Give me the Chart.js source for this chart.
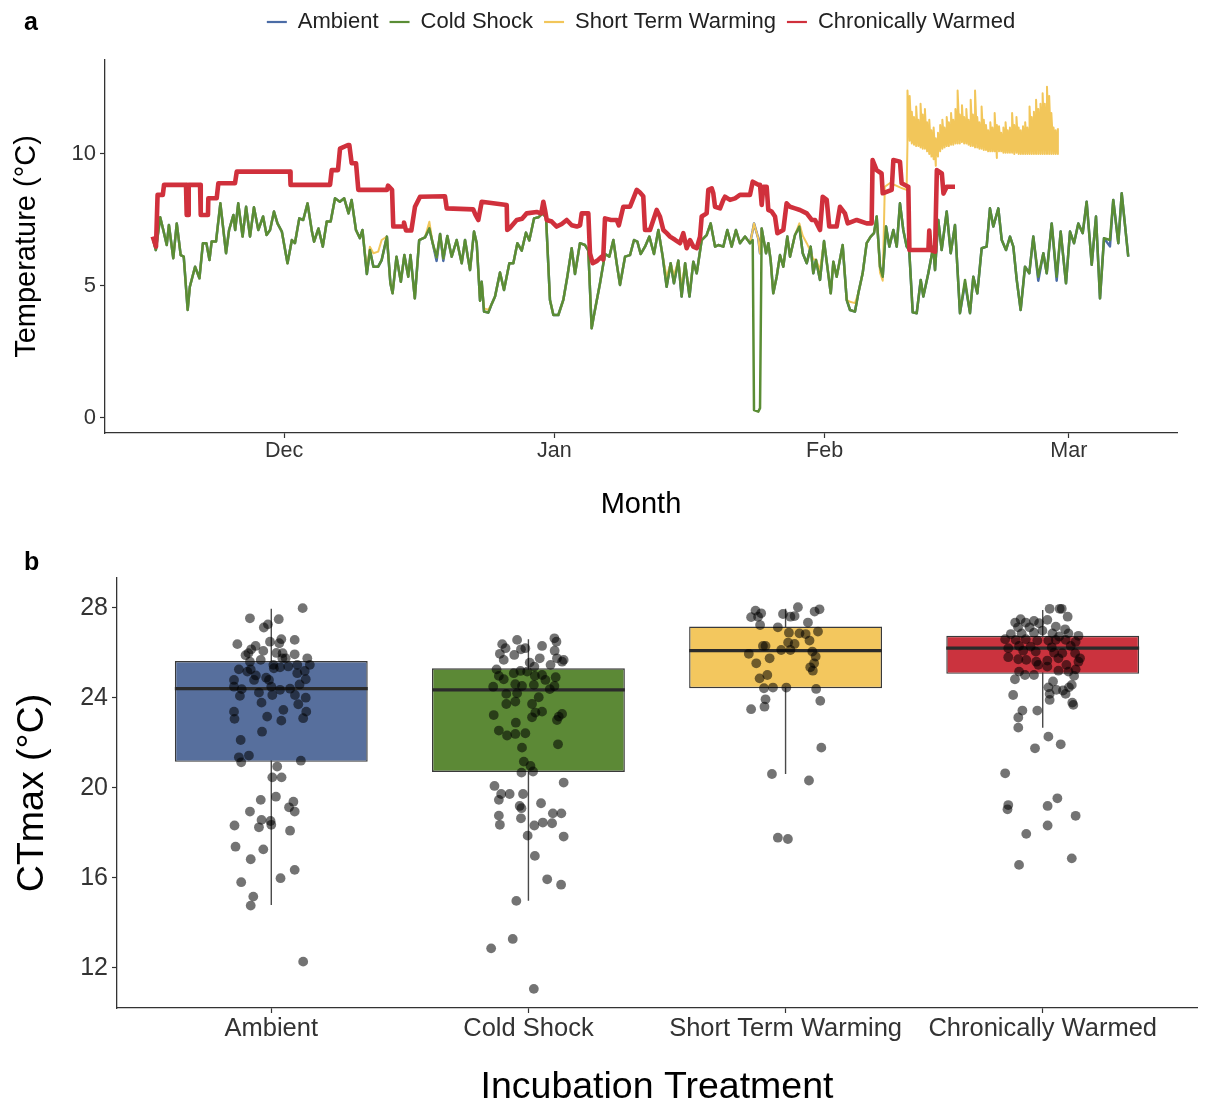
<!DOCTYPE html>
<html><head><meta charset="utf-8">
<script src="https://cdn.jsdelivr.net/npm/chart.js@4.4.1/dist/chart.umd.min.js"></script>
<style>
html,body{margin:0;padding:0;background:#fff;}
body{width:1205px;height:1104px;position:relative;overflow:hidden;font-family:"Liberation Sans",Arial,Helvetica,sans-serif;}
#c1{position:absolute;left:0;top:0;}
#c2{position:absolute;left:0;top:540px;}
.panel{position:absolute;font-weight:bold;font-size:25px;line-height:29px;color:#000;}
</style></head><body>
<canvas id="c1" width="1205" height="530"></canvas>
<canvas id="c2" width="1205" height="564"></canvas>
<div class="panel" style="left:24px;top:7px">a</div>
<div class="panel" style="left:24px;top:547px">b</div>
<script>
// ---------- Panel a : temperature traces (x = days since 1 Nov) ----------
const monthTickDays = [30, 61, 92, 120];
const monthLabels = ['Dec', 'Jan', 'Feb', 'Mar'];
const tempTicks = [0, 5, 10];
const seriesNames = ['Ambient', 'Cold Shock', 'Short Term Warming', 'Chronically Warmed'];

const seasonDays = [
15.0,15.3,15.8,16.2,16.55,16.8,17.3,17.7,18.15,18.5,
18.95,19.2,19.8,20.3,20.7,21.1,21.45,21.7,22.2,22.7,
23.35,23.7,24.2,24.4,24.75,25.25,25.65,26.1,26.55,27.05,
27.6,28.0,28.4,28.85,29.25,29.75,30.4,30.9,31.25,31.75,
32.2,32.7,33.2,33.45,33.95,34.45,34.9,35.35,35.85,36.4,
36.9,37.4,37.75,38.25,38.7,39.0,39.5,39.85,40.25,40.8,
41.2,41.8,42.2,42.45,42.9,43.4,43.8,44.25,44.5,45.0,
45.5,46.17,46.67,47.05,47.5,47.9,48.27,48.73,49.23,49.8,
50.38,50.76,51.33,51.79,52.1,52.48,52.67,52.94,53.43,53.82,
54.2,54.77,55.23,55.84,56.3,56.76,57.26,57.75,58.13,58.67,
59.17,59.66,60.05,60.5,60.89,61.46,62.03,62.49,62.99,63.37,
63.94,64.52,64.9,65.28,65.55,66.24,66.81,67.31,67.77,68.15,
68.53,69.11,69.68,70.14,70.52,70.9,71.4,71.9,72.43,72.93,
73.43,73.88,74.34,74.72,75.22,75.6,76.0,76.5,76.94,77.33,
77.9,78.47,78.93,79.43,79.81,80.38,80.84,81.34,81.83,82.29,
82.87,83.44,83.75,83.9,84.39,84.59,84.78,85.28,85.54,85.81,
86.11,86.5,86.88,87.26,87.72,88.03,88.6,89.1,89.49,89.95,
90.4,90.7,91.01,91.47,91.93,92.31,92.7,93.0,93.38,94.07,
94.53,94.91,95.48,95.86,96.36,96.82,97.28,97.66,97.97,98.35,
98.66,99.04,99.42,99.88,100.27,100.64,101.02,101.41,101.7,102.1,
102.56,103.02,103.32,103.89,104.46,104.66,105.03,105.42,106.0,106.46,
106.95,107.52,108.1,108.67,109.05,109.51,110.01,110.58,110.96,111.34,
111.92,112.31,112.8,113.26,113.64,114.03,114.48,114.98,115.47,115.93,
116.5,117.08,117.47,118.04,118.61,119.07,119.68,120.14,120.6,121.09,
121.6,122.05,122.63,123.12,123.58,124.04,124.72,125.1,125.68,126.07,
126.82];

const coldShockTemps = [
6.74,6.36,7.60,7.06,6.55,7.31,6.05,7.37,6.17,6.11,
4.09,4.97,5.73,5.29,6.62,6.62,5.98,6.68,6.68,8.13,
6.24,7.12,7.69,7.12,8.13,6.87,8.0,6.87,7.98,7.12,
7.63,6.93,7.12,7.82,7.37,7.06,5.86,6.74,6.62,7.56,
7.5,8.13,7.06,6.68,7.18,6.49,7.44,7.44,8.32,8.19,
8.32,7.75,8.26,7.12,6.81,7.12,5.45,6.36,5.73,5.73,
5.98,6.87,5.1,4.72,6.11,5.16,6.17,5.35,6.17,4.53,
6.74,6.84,7.18,6.62,6.09,6.97,6.05,6.89,6.11,6.74,
5.86,6.74,5.6,7.06,6.62,4.44,5.16,4.03,3.99,4.32,
4.6,5.51,4.85,5.86,5.86,6.62,6.34,7.02,6.72,7.56,
7.6,7.75,7.6,4.47,3.9,3.9,4.47,5.35,6.43,5.45,
6.62,6.55,6.34,3.4,3.9,5.1,6.21,6.11,6.74,5.86,
5.04,6.11,6.17,6.74,6.68,6.21,6.49,6.87,6.21,7.12,
6.11,4.97,5.86,5.1,5.96,4.6,5.86,4.6,5.92,5.48,
6.74,6.93,7.37,6.49,6.55,6.49,7.12,6.49,7.12,6.62,
6.87,6.62,6.74,0.3,0.24,0.37,7.18,6.24,6.62,5.98,
4.72,5.35,6.17,5.73,6.87,6.11,6.93,7.25,6.24,5.86,
6.49,5.48,5.98,5.23,6.7,5.73,4.72,5.92,5.35,6.55,
4.47,4.09,4.03,4.72,5.48,6.62,6.87,7.0,7.63,5.73,
5.35,7.25,6.49,7.12,6.49,8.13,7.12,6.49,6.36,4.0,
3.97,5.23,4.6,5.48,6.49,5.6,7.5,6.36,7.82,6.24,
7.31,3.97,5.23,3.97,5.35,4.72,6.43,6.49,7.94,7.25,
7.94,6.74,6.36,6.87,6.49,5.23,4.09,5.73,5.48,6.87,
5.35,6.24,5.48,7.37,5.35,7.06,5.1,7.06,6.62,7.37,
7.0,8.19,5.8,7.63,4.53,6.81,6.74,8.26,6.62,8.51,
6.11];

const ambientTemps = [
6.74,6.36,7.60,7.06,6.55,7.31,6.05,7.37,6.17,6.11,
4.09,4.97,5.73,5.29,6.62,6.62,5.98,6.68,6.68,8.13,
6.24,7.12,7.69,7.12,8.13,6.87,8.0,6.87,7.98,7.12,
7.63,6.93,7.12,7.82,7.37,7.06,5.86,6.74,6.62,7.56,
7.5,8.13,7.06,6.68,7.18,6.49,7.44,7.44,8.32,8.19,
8.32,7.75,8.26,7.12,6.81,7.12,5.45,6.36,5.73,5.73,
5.98,6.87,5.1,4.72,6.11,5.16,6.17,5.35,6.17,4.53,
6.74,6.84,7.18,6.62,5.95,6.97,5.95,6.89,6.11,6.74,
5.86,6.74,5.6,7.06,6.62,4.44,5.16,4.03,3.99,4.32,
4.6,5.51,4.85,5.86,5.86,6.62,6.34,7.02,6.72,7.56,
7.6,7.75,7.6,4.47,3.9,3.9,4.47,5.35,6.43,5.45,
6.62,6.55,6.34,3.4,3.9,5.1,6.21,6.11,6.74,5.86,
5.04,6.11,6.17,6.74,6.68,6.21,6.49,6.87,6.21,7.12,
6.11,4.97,5.86,5.1,5.96,4.6,5.86,4.6,5.92,5.48,
6.74,6.93,7.37,6.49,6.55,6.49,7.12,6.49,7.12,6.62,
6.87,6.62,7.1,7.37,6.8,6.24,7.18,6.24,6.62,5.98,
4.72,5.35,6.17,5.73,6.87,6.11,6.93,7.25,6.24,5.86,
6.49,5.48,5.98,5.23,6.7,5.73,4.72,5.92,5.35,6.55,
4.47,4.09,4.03,4.72,5.48,6.62,6.87,7.0,7.63,5.73,
5.35,7.25,6.49,7.12,6.49,8.13,7.12,6.49,6.36,4.0,
3.97,5.23,4.6,5.48,6.49,5.6,7.5,6.36,7.82,6.24,
7.31,3.97,5.1,3.97,5.35,4.72,6.43,6.49,7.94,7.25,
7.94,6.74,6.36,6.87,6.49,5.23,4.09,5.73,5.48,6.87,
5.2,6.24,5.48,7.37,5.2,7.06,5.1,7.06,6.62,7.37,
7.0,8.19,5.8,7.63,4.53,6.81,6.5,8.26,6.62,8.51,
6.11];

// Short Term Warming before the heating (same logger days as seasonDays[0..190])
const stwEarlyTemps = [
6.74,6.36,7.60,7.06,6.55,7.31,6.05,7.37,6.17,6.11,
4.09,4.97,5.73,5.29,6.62,6.62,5.98,6.68,6.68,8.13,
6.24,7.12,7.69,7.12,8.13,6.87,8.0,6.87,7.98,7.12,
7.63,6.93,7.12,7.82,7.37,7.06,5.86,6.74,6.62,7.56,
7.5,8.13,7.06,6.68,7.18,6.49,7.44,7.44,8.32,8.19,
8.32,7.75,8.26,7.12,6.81,7.12,5.6,6.49,6.24,6.3,
6.74,6.87,5.1,4.72,6.11,5.16,6.17,5.35,6.17,4.53,
6.74,6.84,7.43,6.62,6.09,6.97,6.05,6.89,6.11,6.74,
5.86,6.74,5.6,7.06,6.62,4.44,5.16,4.15,4.1,4.32,
4.6,5.51,4.85,5.86,5.86,6.62,6.34,7.02,6.72,7.56,
7.6,7.75,7.6,4.47,3.9,3.9,4.47,5.35,6.43,5.45,
6.62,6.55,6.34,3.4,3.9,5.1,6.21,6.11,6.74,5.86,
5.04,6.11,6.17,6.74,6.68,6.21,6.49,6.87,6.21,7.12,
6.11,5.35,5.86,5.4,5.96,4.97,5.86,4.7,5.92,5.48,
6.74,6.93,7.37,6.49,6.55,6.49,7.12,6.49,7.12,6.62,
6.87,6.62,7.1,7.37,6.8,6.24,7.18,6.24,6.62,5.98,
4.72,5.35,6.17,5.73,6.87,6.11,6.93,7.37,6.9,6.62,
6.3,6.0,6.0,5.6,6.7,5.73,4.72,5.92,5.35,6.55,
4.47,4.4,4.35,4.72,5.48,6.62,6.87,7.0,7.63,5.5,
5.2];
const stwLateDays = [98.9, 99.5, 100.2, 100.9, 101.4];
const stwLateTemps = [8.76, 8.9, 8.8, 8.7, 8.64];
const stwHeatDays = [
101.5,101.75,102,102.25,102.5,102.75,103,103.25,103.5,103.75,
104,104.25,104.5,104.75,105,105.25,105.5,105.75,106,106.25,
106.5,106.75,107,107.25,107.5,107.75,108,108.25,108.5,108.75,
109,109.25,109.5,109.75,110,110.25,110.5,110.75,111,111.25,
111.5,111.75,112,112.25,112.5,112.75,113,113.25,113.5,113.75,
114,114.25,114.5,114.75,115,115.25,115.5,115.75,116,116.25,
116.5,116.75,117,117.25,117.5,117.75,118,118.25,118.5,118.75];
const stwHeatLow = [
10.4,10.5,10.4,10.35,10.3,10.3,10.25,10.2,10.2,10.1,
10.0,9.9,9.8,9.55,9.9,10.1,10.2,10.25,10.3,10.3,
10.35,10.35,10.4,10.4,10.4,10.45,10.4,10.4,10.35,10.3,
10.3,10.25,10.25,10.2,10.2,10.15,10.15,10.1,10.1,10.1,
10.1,9.85,10.1,10.1,10.05,10.05,10.05,10.05,10.05,10.0,
10.05,10.0,10.0,10.0,10.0,10.0,10.0,10.0,10.0,10.0,
10.0,10.0,10.0,10.0,10.0,10.0,10.0,10.0,10.0,10.0];
const stwHeatHigh = [
12.4,12.2,11.6,11.4,11.8,11.3,11.9,11.5,11.7,11.2,
11.3,10.9,11.0,10.6,10.8,11.1,11.3,11.0,11.4,11.2,
11.55,11.3,11.7,12.4,11.5,11.85,11.4,11.7,11.3,12.05,
11.5,12.4,11.4,11.2,11.8,11.3,11.1,10.9,11.2,11.0,
11.55,11.1,11.05,10.8,11.0,11.2,10.9,11.0,11.55,11.1,
11.4,11.0,10.9,11.05,11.2,11.0,11.8,11.4,11.6,12.05,
11.7,11.9,12.3,11.9,12.55,12.2,11.55,11.0,10.9,10.97];

const warmedDays = [
14.94,15.32,15.5,16.1,16.24,18.76,18.84,18.99,19.07,20.37,
20.45,21.28,21.32,22.28,22.47,24.38,24.58,30.69,30.75,35.28,
35.47,36.19,36.42,37.34,37.49,37.76,38.26,38.52,41.81,41.93,
42.39,42.53,43.65,43.76,43.99,44.6,45.02,45.6,48.46,48.66,
51.7,51.95,52.28,52.67,55.54,55.6,55.9,56.69,57.3,57.83,
58.98,59.5,59.74,59.93,60.13,60.7,61.27,61.85,62.42,63.0,
63.57,63.95,64.14,64.9,65.09,65.4,65.9,66.43,66.6,66.81,
67.5,68.15,68.4,68.91,69.68,70.45,70.8,71.2,71.4,71.97,
72.74,73.12,73.5,73.89,74.27,74.84,75.41,75.79,76.18,76.56,
76.94,77.33,77.71,77.9,78.47,78.66,79.05,79.23,79.43,80.0,
80.38,80.57,81.15,81.72,82.29,83.44,83.75,84.39,84.59,84.78,
84.97,85.35,85.54,85.92,86.31,86.58,87.26,87.64,88.03,88.6,
89.17,89.95,90.52,90.9,91.47,91.78,92.24,92.53,93.38,93.76,
94.33,94.65,95.68,96.82,97.39,97.5,97.96,98.53,98.66,99.69,
99.88,100.64,100.83,101.6,101.72,103.9,104.0,104.15,104.66,104.87,
105.44,105.63,106.0,106.95];
const warmedTemps = [
6.87,6.49,8.45,8.45,8.83,8.83,7.69,7.69,8.83,8.83,
7.69,7.69,8.32,8.32,8.89,8.89,9.33,9.33,8.83,8.83,
9.39,9.39,10.2,10.34,10.34,9.65,9.65,8.64,8.64,8.8,
8.64,7.25,7.25,7.4,7.1,7.1,8.0,8.38,8.4,7.94,
7.9,7.7,7.5,8.19,8.07,7.12,7.2,7.5,7.55,7.75,
7.8,7.75,8.19,7.88,7.5,7.44,7.25,7.35,7.5,7.3,
7.25,7.3,7.75,7.75,6.24,5.86,5.95,6.11,6.0,7.56,
7.5,7.5,7.3,8.0,8.0,8.64,8.55,8.4,7.12,7.12,
7.88,7.62,7.12,7.0,6.87,6.75,6.62,7.0,6.43,6.74,
6.49,6.43,6.87,7.63,7.75,8.64,8.7,8.51,8.0,7.94,
8.26,8.38,8.26,8.32,8.45,8.45,8.95,8.83,8.83,8.07,
8.76,8.76,7.88,7.82,7.63,7.0,7.12,8.13,8.0,7.94,
7.88,7.75,7.5,7.5,7.12,8.38,8.26,7.25,7.25,8.0,
7.75,7.37,7.5,7.37,7.37,9.77,9.39,9.26,8.51,8.64,
9.77,9.71,8.89,8.76,6.36,6.36,7.1,6.36,6.3,9.39,
9.26,8.5,8.76,8.76];

// ---------- Panel b : CTmax box plots ----------
const treatments = ['Ambient', 'Cold Shock', 'Short Term Warming', 'Chronically Warmed'];
const q1 = [21.16, 20.71, 24.43, 25.07];
const medians = [24.41, 24.36, 26.10, 26.21];
const q3 = [25.64, 25.32, 27.17, 26.76];
const whiskerLow = [14.80, 14.99, 20.62, 22.68];
const whiskerHigh = [27.96, 26.61, 27.96, 27.91];
const ctmaxTicks = [12, 16, 20, 24, 28];

const ambientJitter = [0.122,-0.083,0.029,-0.013,-0.029,-0.132,-0.061,-0.078,-0.005,0.039,
0.031,0.091,-0.031,-0.089,0.044,0.091,-0.041,0.043,0.14,-0.083,
0.008,0.056,0.101,0.15,-0.126,-0.08,0.01,0.034,0.101,-0.093,
0.13,-0.145,-0.067,-0.009,0.134,-0.145,-0.115,0.0,0.034,0.073,
-0.048,-0.122,0.004,0.092,0.134,-0.038,0.105,-0.145,0.047,0.136,
-0.143,-0.016,0.039,0.124,-0.036,-0.119,-0.087,-0.126,-0.117,0.115,
0.023,0.004,0.04,0.018,-0.041,0.086,0.069,0.091,-0.083,-0.038,
-0.003,0.0,-0.048,-0.143,0.073,-0.139,-0.031,-0.08,0.091,0.036,
-0.117,-0.07,-0.08,0.124,-0.1,0.02,0.066,-0.02,0.11,-0.06];
const ambientCTmax = [27.99,27.54,27.5,27.27,27.13,26.39,26.31,26.16,26.5,26.61,
26.43,26.58,26.09,25.99,25.99,25.94,25.69,25.76,25.76,25.61,
25.47,25.76,25.47,25.47,25.27,25.27,25.32,25.36,25.1,25.17,
25.2,24.8,24.8,24.8,24.83,24.5,24.39,24.5,24.36,24.41,
24.24,24.09,24.13,24.13,24.01,23.79,23.72,23.39,23.47,23.39,
23.07,23.17,22.99,23.1,22.5,22.13,21.44,21.36,21.14,21.21,
20.95,20.47,20.47,19.61,19.47,19.39,19.14,18.95,18.95,18.58,
18.53,18.36,18.25,18.33,18.1,17.39,17.27,16.83,16.36,15.99,
15.81,15.17,14.77,12.28,25.9,26.0,25.4,24.9,24.6,25.0];

const coldJitter = [0.101,-0.044,0.109,-0.102,0.053,-0.089,-0.029,-0.012,-0.111,-0.055,
0.102,0.044,-0.096,0.111,0.137,0.005,0.086,0.131,0.023,-0.124,
-0.031,-0.005,-0.057,-0.115,0.053,0.025,0.106,0.066,-0.096,-0.051,
-0.025,-0.137,0.021,0.101,0.083,-0.044,-0.086,0.04,-0.051,-0.086,
0.014,0.053,0.027,-0.135,0.131,0.118,0.014,0.111,-0.049,-0.115,
-0.083,-0.051,-0.012,0.115,-0.025,-0.018,0.008,-0.027,0.018,-0.132,
0.137,-0.106,-0.073,-0.021,-0.115,0.049,-0.034,-0.027,-0.115,-0.029,
0.095,0.128,-0.111,0.023,0.056,0.092,-0.003,0.137,0.025,0.073,
0.127,-0.047,-0.061,-0.145,0.021];
const coldCTmax = [26.65,26.58,26.5,26.39,26.31,26.21,26.16,26.21,25.96,25.91,
26.1,25.76,25.69,25.76,25.69,25.57,25.47,25.61,25.39,25.27,
25.2,25.17,25.1,24.98,25.02,24.98,24.92,24.8,24.83,24.61,
24.53,24.5,24.58,24.53,24.39,24.21,24.18,24.03,23.84,23.73,
23.73,23.39,23.35,23.24,23.29,23.17,23.14,23.02,22.9,22.55,
22.33,22.4,22.43,21.94,21.79,21.17,20.98,20.68,20.73,20.09,
20.24,19.73,19.73,19.73,19.47,19.32,19.2,19.1,18.77,18.65,
18.87,18.87,18.36,18.33,18.46,18.43,17.88,17.84,16.98,15.94,
15.7,14.98,13.29,12.87,11.07];

const stwJitter = [0.048,0.132,0.113,-0.117,-0.095,-0.134,-0.107,-0.01,0.019,0.035,
0.087,-0.099,-0.03,0.013,0.054,0.078,0.126,0.093,0.01,0.035,
-0.088,-0.078,-0.017,0.019,0.104,-0.143,0.117,-0.062,-0.114,0.111,
0.096,0.106,-0.071,-0.101,-0.084,-0.049,0.003,0.119,-0.078,0.135,
-0.082,-0.134,0.139,-0.053,0.091,-0.03,0.009];
const stwCTmax = [28.03,27.94,27.84,27.88,27.76,27.59,27.61,27.73,27.61,27.64,
27.35,27.24,27.14,26.9,26.87,26.84,26.95,26.55,26.46,26.4,
26.31,26.31,26.13,26.13,26.06,25.96,25.84,25.76,25.54,25.54,
25.36,25.21,25.02,24.87,24.43,24.46,24.46,24.4,23.94,23.87,
23.61,23.5,21.79,20.62,20.33,17.79,17.73];

const warmJitter = [0.027,0.066,0.074,0.097,-0.086,-0.107,-0.066,-0.034,-0.014,0.018,
-0.096,-0.051,0.051,0.087,-0.124,-0.082,-0.034,-0.001,0.038,0.064,
0.1,0.139,-0.146,-0.105,-0.066,-0.021,0.022,0.051,0.089,0.128,
-0.092,-0.047,0.035,0.109,-0.134,-0.076,-0.027,0.044,0.076,0.126,
-0.134,-0.095,-0.064,-0.025,0.018,0.061,0.145,0.139,-0.017,0.018,
0.092,-0.092,-0.069,-0.034,0.061,0.1,0.128,0.122,-0.108,0.04,
0.113,0.022,0.053,0.079,0.102,0.027,0.089,-0.115,0.027,0.115,
0.119,-0.079,-0.021,-0.095,-0.095,0.022,0.07,-0.03,-0.146,0.057,
-0.134,-0.137,0.019,0.128,0.019,-0.064,0.113,-0.092];
const warmCTmax = [27.96,27.96,27.96,27.61,27.5,27.35,27.35,27.42,27.32,27.47,
27.14,27.14,27.17,27.05,26.84,26.87,26.9,26.99,26.87,26.73,
26.87,26.76,26.61,26.58,26.61,26.55,26.55,26.58,26.58,26.5,
26.31,26.28,26.25,26.31,26.21,26.1,26.06,26.01,25.99,25.99,
25.81,25.72,25.69,25.61,25.66,25.76,25.76,25.61,25.47,25.39,
25.47,25.17,25.02,25.02,25.21,25.17,25.27,24.98,24.83,24.73,
24.58,24.47,24.36,24.33,24.47,24.18,24.18,24.13,23.91,23.79,
23.69,23.44,23.44,23.13,22.68,22.28,21.94,21.76,20.65,19.54,
19.24,19.05,19.2,18.76,18.33,17.96,16.87,16.58];

// ---------- styles ----------
const lineColors = ['#4b6ca6', '#5a8d35', '#f2c65a', '#d0303c'];
const boxColors = ['#576f9d', '#5c8936', '#f3c75e', '#cb333e'];
const FONT = '"Liberation Sans", Arial, Helvetica, sans-serif';
Chart.defaults.font.family = FONT;
Chart.defaults.color = '#333';

const fixedLegend = {
  id: 'fixedLegend',
  afterInit(chart, args, opts) {
    const lg = chart.legend;
    if (lg && opts && opts.height) {
      const orig = lg.fit.bind(lg);
      lg.fit = function () { orig(); this.height = opts.height; };
    }
  }
};

// ---------- build panel a ----------
const pairs = (xs, ys) => xs.map((x, i) => ({ x: x, y: ys[i] }));
const stwData = pairs(seasonDays.slice(0, stwEarlyTemps.length), stwEarlyTemps)
  .concat(pairs(stwLateDays, stwLateTemps));
stwHeatDays.forEach((d, i) => {
  stwData.push({ x: d, y: stwHeatLow[i] });
  stwData.push({ x: d, y: stwHeatHigh[i] });
});

const axisCommon = {
  grid: { drawOnChartArea: false, drawTicks: true, tickLength: 5, color: '#333', tickWidth: 1.2, offset: false },
  border: { display: true, color: '#333', width: 1.3 }
};

new Chart(document.getElementById('c1'), {
  type: 'line',
  data: {
    datasets: [
      { label: seriesNames[0], data: pairs(seasonDays, ambientTemps), borderColor: lineColors[0], backgroundColor: lineColors[0], borderWidth: 2.5, pointRadius: 0, order: 3 },
      { label: seriesNames[1], data: pairs(seasonDays, coldShockTemps), borderColor: lineColors[1], backgroundColor: lineColors[1], borderWidth: 2.5, pointRadius: 0, order: 1 },
      { label: seriesNames[2], data: stwData, borderColor: lineColors[2], backgroundColor: lineColors[2], borderWidth: 2.0, pointRadius: 0, order: 2 },
      { label: seriesNames[3], data: pairs(warmedDays, warmedTemps), borderColor: lineColors[3], backgroundColor: lineColors[3], borderWidth: 4.6, pointRadius: 0, order: 0 }
    ]
  },
  options: {
    responsive: false, animation: false, devicePixelRatio: 1,
    layout: { padding: { left: 0, right: 28, top: 0, bottom: 0 } },
    elements: { line: { tension: 0, borderJoinStyle: 'round' } },
    plugins: {
      tooltip: { enabled: false },
      fixedLegend: { height: 60 },
      legend: {
        position: 'top', fullSize: false, align: 'center',
        labels: {
          usePointStyle: true, pointStyle: 'line', pointStyleWidth: 20,
          font: { size: 22 }, color: '#222', padding: 11,
          sort: (a, b) => a.datasetIndex - b.datasetIndex,
          generateLabels: chart => Chart.defaults.plugins.legend.labels.generateLabels(chart)
            .map(item => Object.assign(item, { lineWidth: 2.2 }))
        }
      }
    },
    scales: {
      x: Object.assign({}, axisCommon, {
        type: 'linear', min: 9.47, max: 132.41, offset: false,
        afterBuildTicks: s => { s.ticks = monthTickDays.map(v => ({ value: v })); },
        afterFit: s => { s.height = 97; },
        ticks: { autoSkip: false, maxRotation: 0, padding: 2, color: '#333', font: { size: 21.5, lineHeight: 1 },
          callback: (v, i) => monthLabels[i] },
        title: { display: true, text: 'Month', color: '#000', font: { size: 29, lineHeight: 1.2 }, padding: { top: 0, bottom: 7.6 } }
      }),
      y: Object.assign({}, axisCommon, {
        type: 'linear', min: -0.57, max: 13.56,
        afterBuildTicks: s => { s.ticks = tempTicks.map(v => ({ value: v })); },
        afterFit: s => { s.width = 105; },
        ticks: { padding: 4, color: '#333', font: { size: 22 }, callback: v => String(v) },
        title: { display: true, text: 'Temperature (°C)', color: '#000', font: { size: 29, lineHeight: 1.2 }, padding: { top: 9.6, bottom: 0 } }
      })
    }
  },
  plugins: [fixedLegend]
});

// ---------- build panel b ----------
const halfBox = 0.375;
const whiskerData = [];
const medianData = [];
treatments.forEach((t, i) => {
  whiskerData.push({ x: i + 1, y: whiskerLow[i] }, { x: i + 1, y: whiskerHigh[i] }, { x: i + 1, y: null });
  medianData.push({ x: i + 1 - halfBox, y: medians[i] }, { x: i + 1 + halfBox, y: medians[i] }, { x: i + 1 + halfBox, y: null });
});
const jitterSets = [[ambientJitter, ambientCTmax], [coldJitter, coldCTmax], [stwJitter, stwCTmax], [warmJitter, warmCTmax]];
const pointDatasets = jitterSets.map((set, i) => ({
  type: 'line', label: treatments[i] + ' fish', showLine: false,
  data: set[0].map((dx, k) => ({ x: i + 1 + dx, y: set[1][k] })),
  pointRadius: 4.9, pointBorderWidth: 0, pointBackgroundColor: 'rgba(0,0,0,0.55)', order: 0
}));

new Chart(document.getElementById('c2'), {
  type: 'bar',
  data: {
    datasets: [
      { type: 'line', label: 'whiskers', data: whiskerData, borderColor: '#4a4a4a', borderWidth: 1.4, pointRadius: 0, spanGaps: false, order: 3 },
      { type: 'bar', label: 'IQR', data: treatments.map((t, i) => ({ x: i + 1, y: [q1[i], q3[i]] })),
        backgroundColor: boxColors, borderColor: '#3a3a3a', borderWidth: 1.4, borderSkipped: false,
        barPercentage: 0.75, categoryPercentage: 1, order: 2 },
      { type: 'line', label: 'median', data: medianData, borderColor: '#2b2b2b', borderWidth: 3.2, pointRadius: 0, spanGaps: false, order: 1 }
    ].concat(pointDatasets)
  },
  options: {
    responsive: false, animation: false, devicePixelRatio: 1,
    layout: { padding: { left: 0, right: 8, top: 38, bottom: 0 } },
    plugins: { legend: { display: false }, tooltip: { enabled: false } },
    scales: {
      x: Object.assign({}, axisCommon, {
        type: 'linear', min: 0.4, max: 4.6, offset: false,
        afterBuildTicks: s => { s.ticks = treatments.map((t, i) => ({ value: i + 1 })); },
        afterFit: s => { s.height = 96; },
        ticks: { autoSkip: false, maxRotation: 0, padding: 3, color: '#333', font: { size: 25.5, lineHeight: 1 },
          callback: (v, i) => treatments[i] },
        title: { display: true, text: 'Incubation Treatment', color: '#000', font: { size: 37.5, lineHeight: 0.86 }, padding: { top: 0, bottom: 0.5 } }
      }),
      y: Object.assign({}, axisCommon, {
        type: 'linear', min: 10.22, max: 29.33,
        afterBuildTicks: s => { s.ticks = ctmaxTicks.map(v => ({ value: v })); },
        afterFit: s => { s.width = 117; },
        ticks: { padding: 4, color: '#333', font: { size: 25 }, callback: v => String(v) },
        title: { display: true, text: 'CTmax (°C)', color: '#000', font: { size: 37.5, lineHeight: 1.2 }, padding: { top: 10, bottom: 0 } }
      })
    }
  }
});
</script>
</body></html>
